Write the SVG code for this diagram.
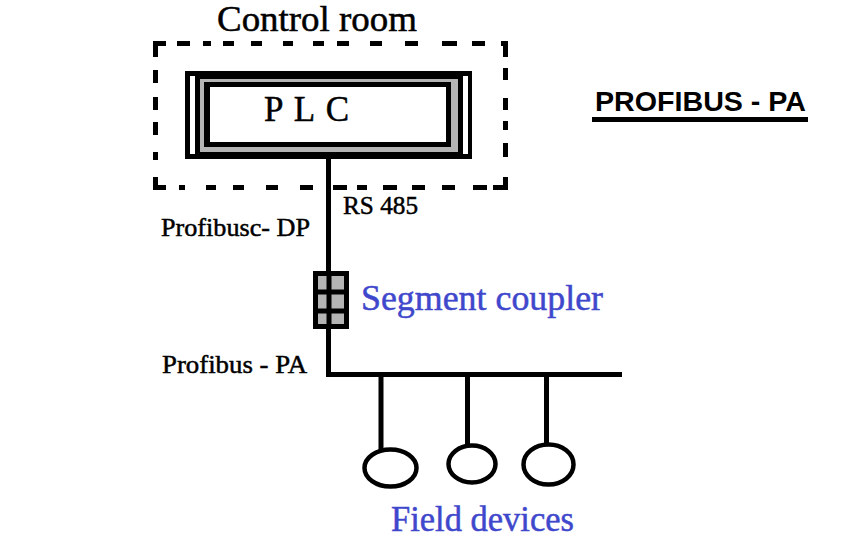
<svg xmlns="http://www.w3.org/2000/svg" width="861" height="546" viewBox="0 0 861 546">
<style>
.k{fill:#000}
.g{fill:#b4b4b4}
.w{fill:#fff}
.l{stroke:#000;stroke-width:5;fill:none}
.e{stroke:#000;stroke-width:4.5;fill:#fff}
.s{font-family:"Liberation Serif","Times New Roman",serif;fill:#000;stroke:#000;stroke-width:.5}
.b{font-family:"Liberation Serif","Times New Roman",serif;fill:#3f48cc;stroke:#3f48cc;stroke-width:.5}
.t{font-family:"Liberation Sans",Arial,sans-serif;font-weight:bold;fill:#000}
</style>
<rect width="861" height="546" fill="#fff"/>
<g id="control-room">
<path class="k" d="M153 41h13v5h-8v11h-5zM177 41h13v5h-13zM203 41h8v5h-8zM223 41h11v5h-11zM251 41h11v5h-11zM283 41h10v5h-10zM313 41h11v5h-11zM337 41h12v5h-12zM370 41h12v5h-12zM405 41h13v5h-13zM442 41h15v5h-15zM472 41h13v5h-13zM501 41h7v16h-5v-11h-2z"/>
<path class="k" d="M153 70h5v13h-5zM153 97h5v13h-5zM153 122h5v13h-5zM153 152h5v8h-5zM153 177h5v8h8v5h-13zM179 185h6v5h-6zM206 185h10v5h-10zM233 185h11v5h-11zM266 185h12v5h-12zM300 185h13v5h-13zM333 185h14v5h-14zM357 185h10v5h-10zM383 185h14v5h-14zM412 185h13v5h-13zM442 185h13v5h-13zM473 185h14v5h-14zM493 185h10v-8h5v13h-15z"/>
<path class="k" d="M503 68h5v12h-5zM503 98h5v12h-5zM503 121h5v9h-5zM503 143h5v14h-5z"/>
<text class="s" x="217" y="31" font-size="35" textLength="200" lengthAdjust="spacingAndGlyphs">Control room</text>
</g>
<g id="plc">
<rect class="k" x="185" y="71" width="287" height="88"/>
<rect class="w" x="190" y="76" width="5" height="78"/>
<rect class="w" x="463" y="76" width="5" height="78"/>
<rect class="g" x="200" y="79" width="258" height="73"/>
<rect class="k" x="204" y="82" width="247" height="65"/>
<rect class="w" x="210" y="87" width="236" height="55"/>
<text class="s" x="264" y="121" font-size="35" textLength="85">P L C</text>
</g>
<g id="title">
<text class="t" x="595" y="110.500" font-size="28" textLength="211" lengthAdjust="spacingAndGlyphs">PROFIBUS - PA</text>
<rect class="k" x="592" y="117" width="216" height="5"/>
</g>
<g id="connectors">
<path class="l" d="M328.500 159V374.500H622"/>
<path class="l" d="M381 375V450M467.500 375V446M546.500 375V444"/>
</g>
<g id="segment-coupler">
<rect class="g" x="315.500" y="273.500" width="31" height="53"/>
<path class="l" d="M315.500 271V329M346.500 271V329M313 273.500H349M313 326.500H349M313 292H349M313 311H349M329 271V329"/>
<text class="b" x="361" y="310" font-size="35" textLength="242" lengthAdjust="spacingAndGlyphs">Segment coupler</text>
</g>
<g id="field-device-1"><ellipse class="e" cx="390.500" cy="468" rx="26" ry="18.500"/></g>
<g id="field-device-2"><ellipse class="e" cx="472" cy="464" rx="23.500" ry="18.500"/></g>
<g id="field-device-3"><ellipse class="e" cx="548.500" cy="464.500" rx="25" ry="20"/></g>
<g id="labels">
<text class="s" x="343" y="214" font-size="26" textLength="75" lengthAdjust="spacingAndGlyphs">RS 485</text>
<text class="s" x="161" y="236" font-size="26" textLength="149" lengthAdjust="spacingAndGlyphs">Profibusc- DP</text>
<text class="s" x="162" y="373" font-size="26" textLength="145" lengthAdjust="spacingAndGlyphs">Profibus - PA</text>
<text class="b" x="391" y="531" font-size="35" textLength="183" lengthAdjust="spacingAndGlyphs">Field devices</text>
</g>
</svg>
